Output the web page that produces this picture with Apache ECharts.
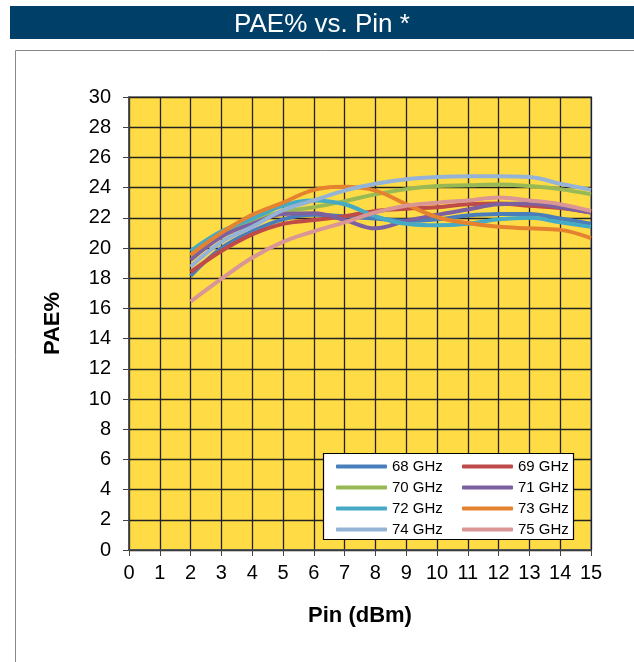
<!DOCTYPE html>
<html>
<head>
<meta charset="utf-8">
<script src="https://cdn.jsdelivr.net/npm/echarts@6/dist/echarts.min.js"></script>
<style>
  html, body { margin: 0; padding: 0; background: #fff; }
  #chart { width: 634px; height: 662px; }
</style>
</head>
<body>
<div id="chart"></div>
<script>
// Pin (dBm) sample points
const pin = [2, 3, 4, 5, 6, 7, 8, 9, 10, 11, 12, 13, 14, 15];

// PAE% per frequency
const pae68 = [18.15, 20.0, 21.1, 21.9, 22.2, 22.1, 21.95, 21.8, 21.9, 22.15, 22.25, 22.25, 21.95, 21.6];
const pae69 = [18.4, 19.8, 20.9, 21.6, 21.85, 22.1, 22.45, 22.6, 22.7, 22.9, 22.95, 22.8, 22.65, 22.35];
const pae70 = [19.5, 21.0, 21.85, 22.4, 22.7, 23.1, 23.55, 23.9, 24.1, 24.15, 24.2, 24.1, 23.9, 23.55];
const pae71 = [19.2, 20.75, 21.6, 22.25, 22.3, 21.85, 21.3, 21.8, 22.2, 22.55, 22.9, 22.95, 22.7, 22.35];
const pae72 = [19.8, 21.1, 21.95, 22.8, 23.15, 22.9, 22.1, 21.6, 21.5, 21.6, 21.9, 22.0, 21.7, 21.4];
const pae73 = [19.55, 21.0, 22.2, 23.0, 23.85, 24.05, 23.8, 22.9, 22.05, 21.65, 21.4, 21.3, 21.2, 20.65];
const pae74 = [18.75, 20.4, 21.4, 22.5, 23.15, 23.8, 24.25, 24.55, 24.7, 24.75, 24.75, 24.7, 24.25, 23.85];
const pae75 = [16.45, 17.95, 19.35, 20.4, 21.1, 21.7, 22.35, 22.8, 23.0, 23.15, 23.35, 23.15, 22.9, 22.45];

const names = ['68 GHz', '69 GHz', '70 GHz', '71 GHz', '72 GHz', '73 GHz', '74 GHz', '75 GHz'];
const values = [pae68, pae69, pae70, pae71, pae72, pae73, pae74, pae75];
const colors = ['#4A7EBB', '#BE4B48', '#98B954', '#7D60A0', '#46AAC5', '#E5822F', '#95B3D7', '#D99694'];

const font = 'Arial, "Liberation Sans", sans-serif';

var myChart = echarts.init(document.getElementById('chart'));

let series = names.map((n, i) => ({
  name: n,
  type: 'line',
  smooth: 0.4,
  showSymbol: false,
  symbol: 'none',
  lineStyle: { width: 4, color: colors[i] },
  itemStyle: { color: colors[i] },
  data: pin.map((p, k) => [p, values[i][k]])
}));

let legendBase = {
  orient: 'vertical',
  icon: 'roundRect',
  itemWidth: 51,
  itemHeight: 4,
  itemGap: 6,
  textStyle: { fontSize: 15, color: '#000', fontFamily: font }
};

var option = {
  backgroundColor: '#fff',
  animation: false,
  color: colors,
  title: {
    text: 'PAE% vs. Pin *',
    left: 317,
    top: 7,
    textAlign: 'center',
    textStyle: { color: '#fff', fontSize: 26, fontWeight: 'normal', fontFamily: font }
  },
  graphic: [
    { type: 'rect', z: -1, shape: { x: 10, y: 6, width: 630, height: 33 }, style: { fill: '#003F68' } },
    { type: 'rect', z: -1, shape: { x: 15.5, y: 50.5, width: 640, height: 640 }, style: { fill: 'none', stroke: '#888', lineWidth: 1 } },
    // legend box
    { type: 'rect', z: 5, shape: { x: 323.5, y: 453.5, width: 250, height: 86 }, style: { fill: '#fff', stroke: '#000', lineWidth: 1.2 } }
  ],
  legend: [
    Object.assign({}, legendBase, { left: 331, top: 454, data: ['68 GHz', '70 GHz', '72 GHz', '74 GHz'], z: 10 }),
    Object.assign({}, legendBase, { left: 457, top: 454, data: ['69 GHz', '71 GHz', '73 GHz', '75 GHz'], z: 10 })
  ],
  grid: {
    left: 129,
    right: 43,
    top: 97,
    bottom: 112,
    show: true,
    backgroundColor: '#FFDC46',
    borderColor: '#999',
    borderWidth: 2
  },
  xAxis: {
    type: 'value',
    min: 0,
    max: 15,
    interval: 1,
    name: 'Pin (dBm)',
    nameLocation: 'middle',
    nameGap: 55,
    nameTextStyle: { fontSize: 22, fontWeight: 'bold', color: '#000', fontFamily: font },
    axisLine: { show: true, lineStyle: { color: '#444', width: 1.5 } },
    axisTick: { show: true, length: 6, lineStyle: { color: '#444' } },
    axisLabel: { fontSize: 20, color: '#000', margin: 13, fontFamily: font },
    splitLine: { show: true, lineStyle: { color: '#222', width: 1.3 } }
  },
  yAxis: {
    type: 'value',
    min: 0,
    max: 30,
    interval: 2,
    name: 'PAE%',
    nameLocation: 'middle',
    nameGap: 65,
    nameTextStyle: { fontSize: 22, fontWeight: 'bold', color: '#000', fontFamily: font },
    axisLine: { show: true, lineStyle: { color: '#444', width: 1.5 } },
    axisTick: { show: true, length: 6, lineStyle: { color: '#444' } },
    axisLabel: { fontSize: 20, color: '#000', margin: 18, fontFamily: font },
    splitLine: { show: true, lineStyle: { color: '#222', width: 1.3 } }
  },
  series: series
};

option && myChart.setOption(option);
</script>
</body>
</html>
